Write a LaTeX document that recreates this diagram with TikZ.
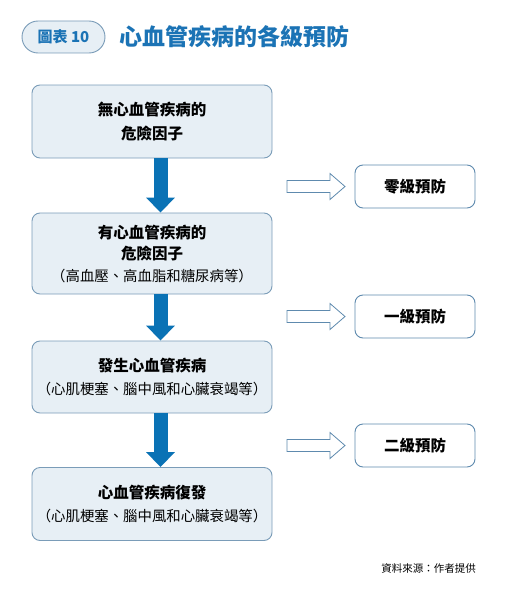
\documentclass[tikz,border=0pt]{standalone}
\usepackage{fontspec}
\setmainfont{Noto Sans CJK TC}
\usetikzlibrary{arrows.meta,calc}
\definecolor{titleblue}{HTML}{1B73B5}
\definecolor{boxline}{HTML}{7A9CB8}
\definecolor{boxfill}{HTML}{E7EFF5}
\definecolor{arrowblue}{HTML}{0A72B5}
\definecolor{hollowline}{HTML}{5E8AAE}
\newcommand{\subtxt}[1]{{\fontsize{14.4pt}{16pt}\selectfont #1}}
\tikzset{
  stagebox/.style={draw=boxline, fill=boxfill, rounded corners=8pt, line width=0.9pt,
    minimum width=240pt, minimum height=73pt, align=center, font=\fontsize{15.5pt}{24pt}\selectfont, inner sep=0pt},
  prevbox/.style={draw=hollowline, fill=white, rounded corners=8pt, line width=0.9pt,
    minimum width=120pt, minimum height=43pt, font=\bfseries\fontsize{15.5pt}{17pt}\selectfont, inner sep=0pt},
  downarrow/.style={draw=arrowblue, line width=14pt, -{Triangle[width=28pt,length=15pt]}},
  hollow/.style={draw=hollowline, fill=white, line width=0.8pt, line join=miter}
}
\begin{document}
\begin{tikzpicture}[x=1pt,y=-1pt]
\useasboundingbox (0,0) rectangle (510,610);
% title
\node[draw=boxline, fill=boxfill, rounded corners=16pt, line width=0.9pt, minimum width=83pt, minimum height=32pt,
  text=titleblue, font=\bfseries\fontsize{15pt}{17pt}\selectfont, inner sep=0pt] (tag) at (63.5,37) {圖表 10};
\node[anchor=west, text=titleblue, font=\bfseries\fontsize{23pt}{25pt}\selectfont, inner sep=0pt] (title) at (119,37) {心血管疾病的各級預防};
% stage boxes
\node[stagebox] (b1) at (152,121.5) {\textbf{無心血管疾病的}\\\textbf{危險因子}};
\node[stagebox, minimum height=81pt] (b2) at (152,253.5) {\textbf{有心血管疾病的}\\[-3pt]\textbf{危險因子}\\[-2pt]\subtxt{（高血壓、高血脂和糖尿病等）}};
\node[stagebox, minimum height=72pt] (b3) at (152,377) {\textbf{發生心血管疾病}\\[-1pt]\subtxt{（心肌梗塞、腦中風和心臟衰竭等）}};
\node[stagebox] (b4) at (152,504) {\textbf{心血管疾病復發}\\[-1pt]\subtxt{（心肌梗塞、腦中風和心臟衰竭等）}};
% down arrows
\draw[downarrow] ($(b1.south)+(8.5,0)$) -- ($(b2.north)+(8.5,0)$);
\draw[downarrow] ($(b2.south)+(8.5,0)$) -- ($(b3.north)+(8.5,0)$);
\draw[downarrow] ($(b3.south)+(8.5,0)$) -- ($(b4.north)+(8.5,0)$);
% prevention boxes
\node[prevbox] (p0) at (415,186.5) {零級預防};
\node[prevbox] (p1) at (415,316.5) {一級預防};
\node[prevbox] (p2) at (415,445.5) {二級預防};
% hollow arrows
\foreach \yy in {186.5, 316.5, 445.5}{
  \draw[hollow] (287,\yy-6) -- (330,\yy-6) -- (330,\yy-13) -- (345,\yy) -- (330,\yy+13) -- (330,\yy+6) -- (287,\yy+6) -- cycle;
}
% source
\node[anchor=east, font=\fontsize{10.5pt}{12pt}\selectfont, inner sep=0pt] (src) at (476,568) {資料來源：作者提供};
\end{tikzpicture}
\end{document}
